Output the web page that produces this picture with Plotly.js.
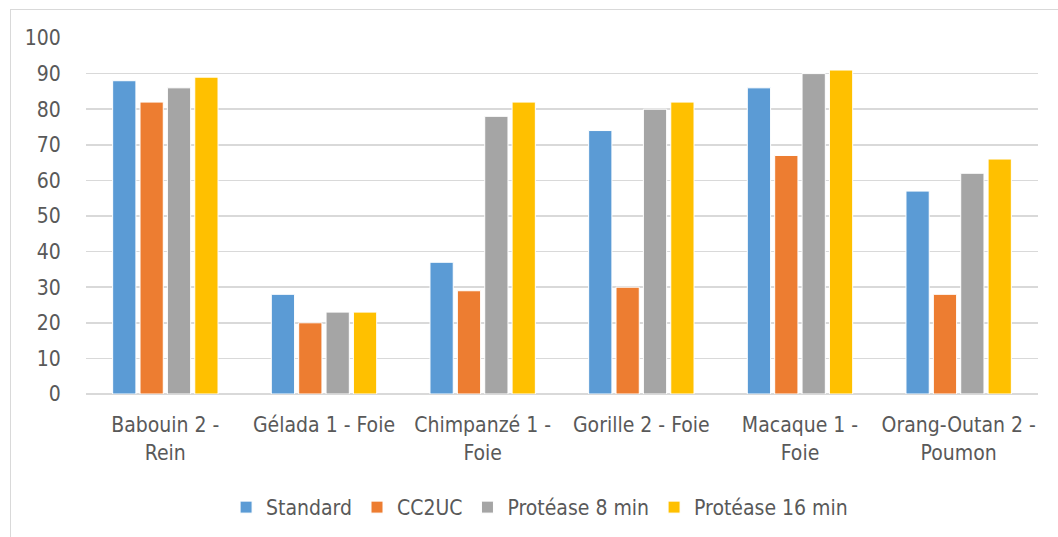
<!DOCTYPE html>
<html>
<head>
<meta charset="utf-8">
<script src="https://cdn.plot.ly/plotly-3.0.1.min.js"></script>
<style>
  html, body { margin: 0; padding: 0; background: #fff; }
  #wrap { position: relative; width: 1058px; height: 537px; overflow: hidden; }
  #frame { position: absolute; left: 10px; top: 9px; width: 1100px; height: 600px;
           border-left: 1.5px solid #d9d9d9; border-top: 1.5px solid #d9d9d9; pointer-events: none; }
  #chart { position: absolute; left: 0; top: 0; width: 1058px; height: 537px; }
</style>
</head>
<body>
<div id="wrap">
  <div id="chart"></div>
  <div id="frame"></div>
</div>
<script>
const categories = [
  "Babouin 2 -<br>Rein",
  "Gélada 1 - Foie",
  "Chimpanzé 1 -<br>Foie",
  "Gorille 2 - Foie",
  "Macaque 1 -<br>Foie",
  "Orang-Outan 2 -<br>Poumon"
];
const seriesNames = ["Standard", "CC2UC", "Protéase 8 min", "Protéase 16 min"];
const standard = [88, 28, 37, 74, 86, 57];
const cc2uc = [82, 20, 29, 30, 67, 28];
const protease8 = [86, 23, 78, 80, 90, 62];
const protease16 = [89, 23, 82, 82, 91, 66];
const colors = ["#5b9bd5", "#ed7d31", "#a5a5a5", "#ffc000"];
const yTicks = [0, 10, 20, 30, 40, 50, 60, 70, 80, 90, 100];

const seriesValues = [standard, cc2uc, protease8, protease16];
const font = "'DejaVu Sans Condensed', 'Liberation Sans Narrow', 'Open Sans', sans-serif";

const traces = seriesValues.map((vals, i) => ({
  type: "bar",
  name: seriesNames[i],
  x: categories,
  y: vals,
  marker: { color: colors[i], line: { color: "#ffffff", width: 1 } },
  hoverinfo: "skip"
}));

const layout = {
  width: 1058,
  height: 537,
  margin: { l: 86, r: 20, t: 38, b: 143, autoexpand: false },
  paper_bgcolor: "rgba(0,0,0,0)",
  plot_bgcolor: "#ffffff",
  barmode: "group",
  bargap: 0.31,
  bargroupgap: 0.15,
  showlegend: true,
  font: { family: font, size: 21, color: "#595959" },
  xaxis: {
    type: "category",
    showgrid: false,
    showline: false,
    zeroline: false,
    ticks: "outside",
    ticklen: 12,
    tickcolor: "rgba(0,0,0,0)",
    tickfont: { family: font, size: 21, color: "#595959" },
    automargin: false
  },
  yaxis: {
    range: [0, 100],
    tickvals: yTicks,
    ticktext: yTicks.map(String),
    showgrid: true,
    gridcolor: "#d9d9d9",
    gridwidth: 1.5,
    zeroline: true,
    zerolinecolor: "#d9d9d9",
    zerolinewidth: 1.5,
    showline: false,
    ticks: "outside",
    ticklen: 20,
    tickcolor: "rgba(0,0,0,0)",
    tickfont: { family: font, size: 21, color: "#595959" },
    automargin: false
  },
  legend: {
    orientation: "h",
    x: 0.51,
    xanchor: "center",
    xref: "container",
    yref: "container",
    y: 0.055,
    yanchor: "middle",
    font: { family: font, size: 21, color: "#595959" },
    itemwidth: 30,
    tracegroupgap: 0,
    bgcolor: "rgba(0,0,0,0)"
  }
};

Plotly.newPlot("chart", traces, layout, { staticPlot: true, displayModeBar: false });
</script>
</body>
</html>
